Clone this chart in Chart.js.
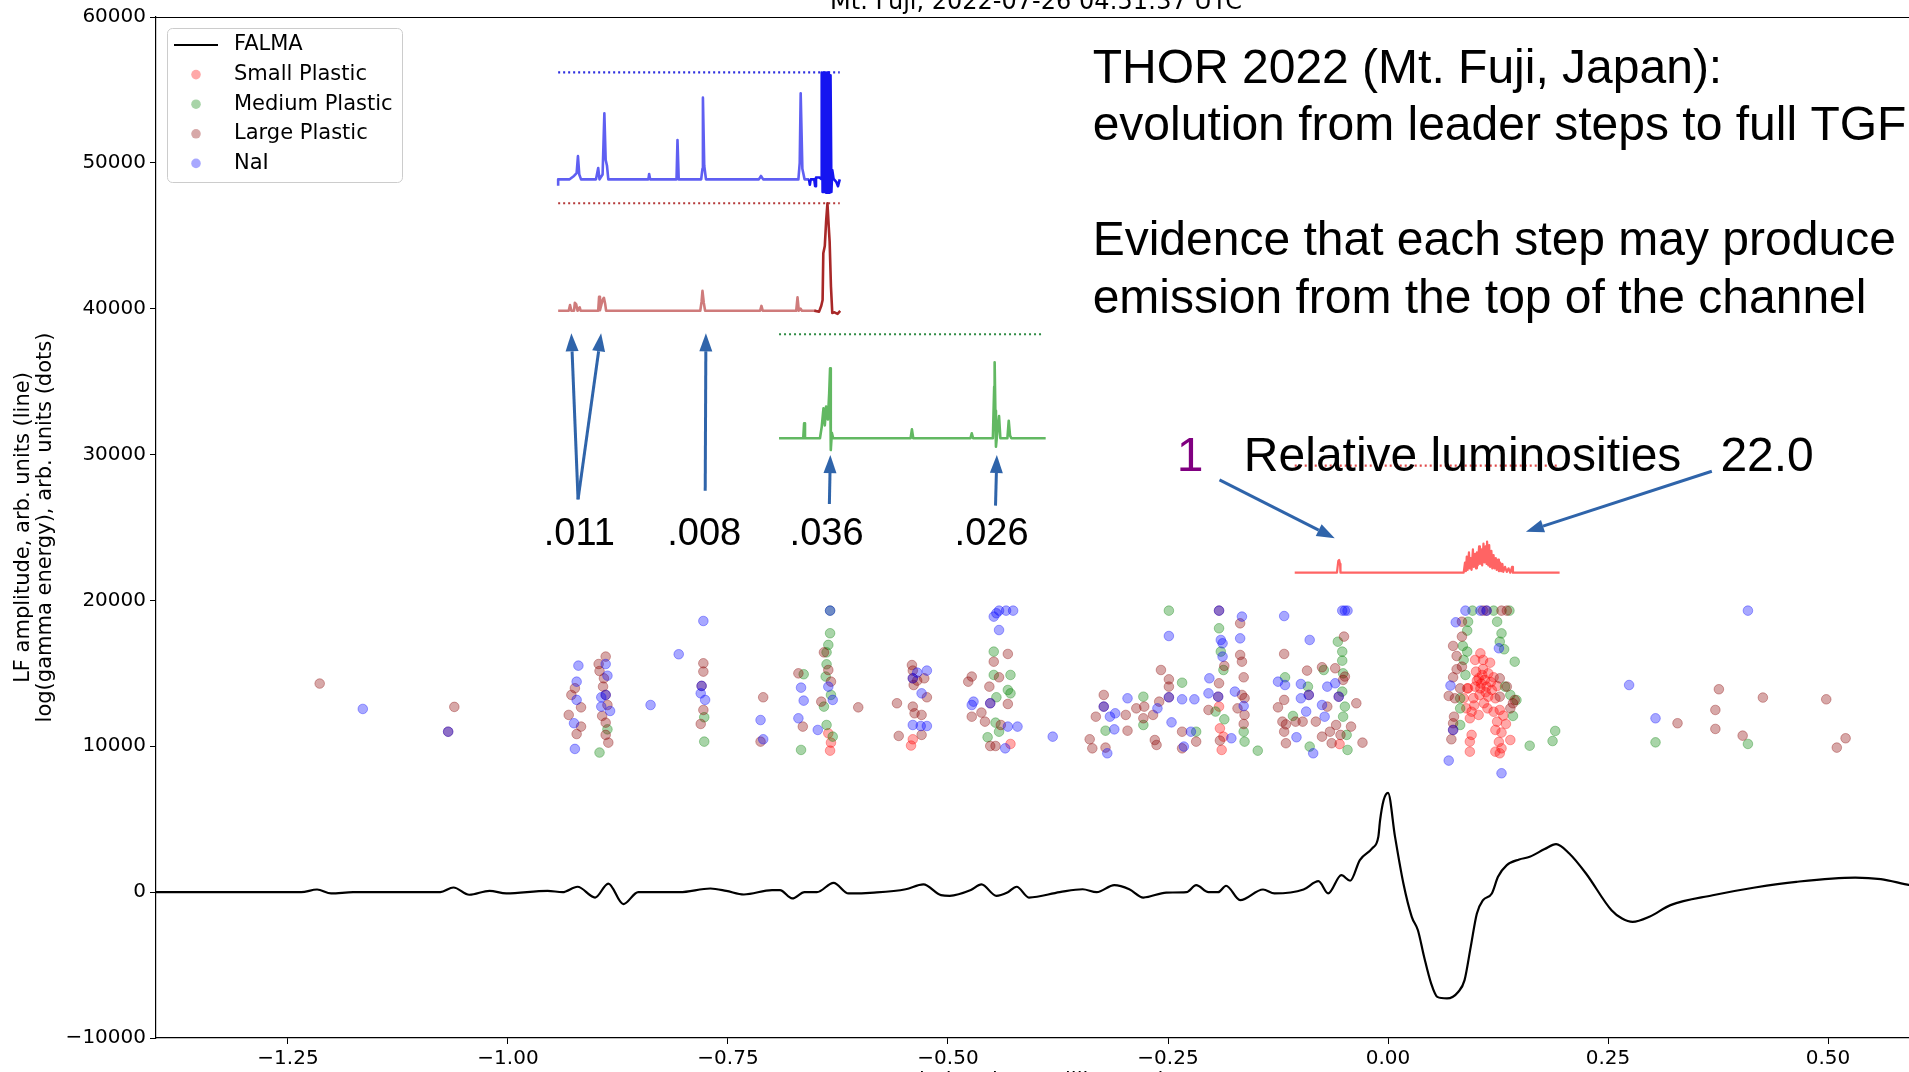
<!DOCTYPE html>
<html>
<head>
<meta charset="utf-8">
<title>THOR 2022 Mt. Fuji</title>
<script src="https://cdn.jsdelivr.net/npm/chart.js@4.4.1/dist/chart.umd.min.js"></script>
<style>
html, body { margin: 0; padding: 0; background: #fff; overflow: hidden; }
#wrap { width: 1909px; height: 1072px; overflow: hidden; }
#chart { display: block; }
</style>
</head>
<body>
<div id="wrap"><canvas id="chart" width="1930" height="1072"></canvas></div>
<script>
// time axis in milliseconds relative to the TGF, y in arbitrary units
const xTicks = [-1.25, -1.00, -0.75, -0.50, -0.25, 0.00, 0.25, 0.50];
const yTicks = [-10000, 0, 10000, 20000, 30000, 40000, 50000, 60000];

// FALMA LF waveform [t, amplitude]
const falma = [
  [-1.400, 0], [-1.300, 0], [-1.235, 0], [-1.217, 180], [-1.201, -90], [-1.176, 0],
  [-1.077, 0], [-1.062, 320], [-1.044, -180], [-1.021, 90], [-1.002, -90], [-0.955, 90],
  [-0.938, 0], [-0.921, 370], [-0.901, -370], [-0.886, 590], [-0.869, -820], [-0.852, 0],
  [-0.828, 0], [-0.805, 0], [-0.770, 250], [-0.752, 90], [-0.732, -160], [-0.700, 140],
  [-0.691, 140], [-0.677, -430], [-0.663, 0], [-0.649, 0], [-0.630, 640], [-0.613, -90],
  [-0.584, -30], [-0.548, 200], [-0.528, 530], [-0.508, -200], [-0.498, -250],
  [-0.474, 140], [-0.462, 530], [-0.445, -250], [-0.432, 0], [-0.422, 370], [-0.408, -370],
  [-0.373, 0], [-0.347, 200], [-0.331, 0], [-0.311, 480], [-0.294, 200], [-0.278, -370],
  [-0.252, -30], [-0.229, 0], [-0.218, 480], [-0.204, 0], [-0.193, 0], [-0.184, 440],
  [-0.168, -550], [-0.142, 180], [-0.129, -90], [-0.096, 180], [-0.079, 750], [-0.068, -90],
  [-0.053, 1160], [-0.043, 780], [-0.032, 2200], [-0.018, 3000], [-0.011, 3790],
  [-0.009, 4930], [-0.005, 6300], [0.000, 6810], [0.008, 3790], [0.0175, 590],
  [0.027, -1690], [0.034, -2610], [0.041, -4430], [0.049, -6260], [0.056, -7180],
  [0.067, -7290], [0.080, -6830], [0.087, -6030], [0.094, -3750], [0.101, -1460],
  [0.108, -550], [0.118, -90], [0.125, 1050], [0.135, 1850], [0.149, 2240], [0.161, 2420],
  [0.178, 2950], [0.191, 3290], [0.206, 2650], [0.225, 1280], [0.254, -1240], [0.266, -1810],
  [0.278, -2040], [0.297, -1690], [0.321, -890], [0.369, -210], [0.417, 320], [0.464, 710],
  [0.531, 1000], [0.560, 890], [0.593, 480], [0.600, 420]
];

// detector hits [t, log energy]
const smallPlastic = [
  [-0.636, 10890], [-0.633, 10250], [-0.634, 9700], [-0.540, 10480], [-0.542, 10050], [-0.429, 10160],
  [-0.192, 12720], [-0.191, 11230], [-0.187, 10660], [-0.189, 9750], [-0.055, 10150],
  [0.105, 16370], [0.099, 15920], [0.108, 15920], [0.116, 15730], [0.100, 15120], [0.107, 14890],
  [0.114, 15000], [0.103, 14660], [0.110, 14550], [0.120, 14730], [0.099, 14090], [0.105, 13970],
  [0.112, 14090], [0.124, 14130], [0.104, 13520], [0.114, 13400], [0.122, 13290], [0.091, 13970],
  [0.089, 12600], [0.095, 12370], [0.103, 12150], [0.093, 11920], [0.120, 12370], [0.127, 12490],
  [0.124, 11690], [0.134, 11530], [0.122, 11120], [0.129, 10940], [0.139, 10430], [0.095, 10780],
  [0.093, 10320], [0.093, 9630], [0.122, 9630], [0.127, 9520], [0.129, 9860], [0.086, 13290],
  [0.090, 13970], [0.118, 13860], [0.109, 12950], [0.106, 14300], [0.101, 14500], [0.111, 13700],
  [0.097, 13300], [0.117, 14400], [0.108, 15300], [0.113, 12600], [0.098, 12800], [0.131, 12100],
  [0.126, 10300]
];
const mediumPlastic = [
  [-0.896, 9570], [-0.887, 11160], [-0.777, 11990], [-0.777, 10320], [-0.664, 14940], [-0.667, 9750],
  [-0.634, 19300], [-0.634, 17750], [-0.636, 16950], [-0.638, 16440], [-0.638, 15620], [-0.639, 14780],
  [-0.633, 13520], [-0.641, 12720], [-0.638, 11460], [-0.631, 10660], [-0.448, 16490], [-0.448, 14890],
  [-0.429, 14890], [-0.432, 13860], [-0.429, 13630], [-0.445, 13360], [-0.446, 11620], [-0.442, 11000],
  [-0.455, 10620], [-0.321, 11070], [-0.278, 13400], [-0.278, 11460], [-0.249, 19300], [-0.234, 14360],
  [-0.218, 11000], [-0.192, 18090], [-0.190, 16490], [-0.187, 15230], [-0.196, 12380], [-0.186, 11850],
  [-0.164, 11000], [-0.163, 10320], [-0.148, 9700], [-0.117, 14730], [-0.108, 12080], [-0.091, 14090],
  [-0.089, 9980], [-0.073, 15230], [-0.057, 17170], [-0.052, 16490], [-0.052, 15870], [-0.051, 15000],
  [-0.052, 13750], [-0.049, 12720], [-0.051, 12030], [-0.047, 10780], [-0.046, 9750],
  [0.096, 19300], [0.120, 19300], [0.138, 19300], [0.091, 18540], [0.090, 17930], [0.124, 18540],
  [0.129, 17740], [0.127, 17170], [0.132, 16650], [0.144, 15800], [0.085, 16880], [0.090, 16490],
  [0.086, 15920], [0.088, 14890], [0.082, 13290], [0.082, 12600], [0.082, 11460], [0.133, 14090],
  [0.139, 13520], [0.146, 13170], [0.142, 12080], [0.161, 10040], [0.187, 10360], [0.190, 11050],
  [0.304, 10270], [0.409, 10160]
];
const largePlastic = [
  [-1.214, 14300], [-1.061, 12700], [-1.068, 11000], [-0.924, 13980], [-0.928, 13520], [-0.917, 12670],
  [-0.931, 12150], [-0.917, 11350], [-0.922, 10840], [-0.897, 15640], [-0.889, 16150], [-0.896, 15160],
  [-0.891, 14660], [-0.892, 14090], [-0.889, 13520], [-0.887, 12830], [-0.893, 12080], [-0.889, 11620],
  [-0.889, 10780], [-0.886, 10250], [-0.778, 15690], [-0.778, 15120], [-0.780, 14140], [-0.778, 12490],
  [-0.781, 11530], [-0.710, 13360], [-0.713, 10320], [-0.670, 15000], [-0.665, 11350], [-0.641, 16440],
  [-0.636, 15230], [-0.633, 14430], [-0.644, 13060], [-0.602, 12670], [-0.558, 12950], [-0.556, 10710],
  [-0.541, 15570], [-0.540, 15190], [-0.540, 14660], [-0.539, 14200], [-0.535, 14500], [-0.527, 14660],
  [-0.524, 13360], [-0.540, 12720], [-0.538, 12260], [-0.530, 12150], [-0.530, 10780], [-0.477, 14430],
  [-0.473, 14780], [-0.473, 12030], [-0.462, 12310], [-0.458, 11690], [-0.452, 12950], [-0.453, 14090],
  [-0.448, 15800], [-0.432, 16330], [-0.442, 14730], [-0.432, 12900], [-0.440, 11460], [-0.452, 10020],
  [-0.446, 10020], [-0.339, 10480], [-0.336, 9860], [-0.323, 13520], [-0.332, 12030], [-0.323, 12720],
  [-0.321, 9910], [-0.298, 12150], [-0.296, 11070], [-0.286, 12600], [-0.277, 12720], [-0.278, 11920],
  [-0.267, 12150], [-0.260, 13060], [-0.265, 10430], [-0.263, 10090], [-0.258, 15230], [-0.249, 14590],
  [-0.249, 14090], [-0.249, 13360], [-0.234, 11000], [-0.234, 9860], [-0.218, 10320], [-0.204, 12490],
  [-0.192, 19300], [-0.186, 15510], [-0.192, 14320], [-0.193, 13400], [-0.191, 10390], [-0.171, 12600],
  [-0.168, 18430], [-0.168, 16260], [-0.166, 15800], [-0.164, 14730], [-0.166, 13520], [-0.163, 13300],
  [-0.163, 12150], [-0.164, 11530], [-0.118, 16330], [-0.118, 13180], [-0.125, 12670], [-0.120, 11690],
  [-0.116, 11500], [-0.118, 11000], [-0.116, 10210], [-0.105, 11690], [-0.097, 11690], [-0.092, 15190],
  [-0.090, 13520], [-0.082, 11690], [-0.075, 15420], [-0.075, 10660], [-0.069, 12720], [-0.066, 11000],
  [-0.064, 10210], [-0.060, 15350], [-0.059, 11460], [-0.050, 17520], [-0.051, 14550], [-0.049, 14780],
  [-0.056, 13400], [-0.054, 10780], [-0.042, 11350], [-0.036, 12950], [-0.029, 10250],
  [0.108, 19300], [0.129, 19300], [0.135, 19300], [0.112, 19300], [0.084, 18540], [0.084, 17520],
  [0.074, 16880], [0.078, 16190], [0.084, 15460], [0.078, 15280], [0.074, 14730], [0.082, 13970],
  [0.069, 13450], [0.076, 13290], [0.075, 12030], [0.072, 10480], [0.074, 11580], [0.074, 11120],
  [0.127, 14660], [0.135, 14090], [0.127, 13400], [0.142, 12950], [0.139, 12600], [0.144, 13170],
  [0.376, 13910], [0.426, 13340], [0.498, 13220], [0.372, 12490], [0.329, 11580], [0.372, 11190],
  [0.403, 10730], [0.520, 10550], [0.510, 9910]
];
const nai = [
  [-1.165, 12560], [-1.068, 11000], [-0.920, 15530], [-0.922, 14430], [-0.922, 13180], [-0.925, 11580],
  [-0.924, 9820], [-0.889, 15640], [-0.887, 14840], [-0.889, 13520], [-0.894, 13360], [-0.894, 12720],
  [-0.884, 12420], [-0.838, 12830], [-0.806, 16310], [-0.778, 18590], [-0.780, 14140], [-0.781, 13630],
  [-0.776, 13180], [-0.713, 11800], [-0.710, 10480], [-0.667, 14020], [-0.664, 13130], [-0.670, 11920],
  [-0.648, 11120], [-0.634, 19300], [-0.636, 14090], [-0.631, 13180], [-0.540, 14660], [-0.535, 15050],
  [-0.524, 15190], [-0.530, 13630], [-0.540, 11460], [-0.531, 11390], [-0.524, 11390], [-0.471, 13060],
  [-0.473, 12830], [-0.452, 12950], [-0.448, 18890], [-0.445, 19120], [-0.442, 19300], [-0.434, 19300],
  [-0.426, 19300], [-0.442, 17970], [-0.432, 11350], [-0.421, 11350], [-0.435, 9860], [-0.381, 10660],
  [-0.323, 12720], [-0.319, 9520], [-0.316, 12030], [-0.311, 11160], [-0.310, 12260], [-0.296, 13290],
  [-0.262, 12600], [-0.249, 17560], [-0.249, 13360], [-0.246, 11640], [-0.234, 13220], [-0.232, 9980],
  [-0.224, 11000], [-0.220, 13220], [-0.204, 13630], [-0.203, 14660], [-0.192, 19300], [-0.190, 17290],
  [-0.188, 17060], [-0.188, 16150], [-0.193, 13400], [-0.178, 10550], [-0.174, 13750], [-0.166, 18890],
  [-0.168, 17400], [-0.164, 12760], [-0.118, 18930], [-0.089, 17290], [-0.125, 14430], [-0.117, 14200],
  [-0.104, 10620], [-0.099, 14270], [-0.099, 13290], [-0.093, 12380], [-0.090, 13520], [-0.085, 9520],
  [-0.075, 12830], [-0.072, 12030], [-0.069, 14090], [-0.060, 14320], [-0.052, 19300], [-0.049, 19300],
  [-0.046, 19300], [-0.056, 13400], [0.088, 19300], [0.105, 19300], [0.112, 19300], [0.077, 18500],
  [0.126, 16720], [0.071, 14160], [0.074, 11120], [0.069, 9020], [0.129, 8150],
  [0.409, 19300], [0.274, 14200], [0.304, 11920]
];

// light-curve insets, drawn in plot units
const naiCurve = [
  [-0.943, 48430], [-0.943, 48870], [-0.930, 48870], [-0.925, 49100], [-0.922, 49300], [-0.9205, 50470],
  [-0.919, 49200], [-0.917, 48870], [-0.900, 48870], [-0.8975, 49650], [-0.896, 48870], [-0.8925, 49200],
  [-0.8905, 53400], [-0.889, 50200], [-0.8875, 49800], [-0.886, 48870], [-0.8405, 48870], [-0.8396, 49240],
  [-0.8385, 48870], [-0.8085, 48870], [-0.8074, 51570], [-0.806, 48870], [-0.7805, 48870], [-0.779, 49600],
  [-0.7785, 54470], [-0.777, 49800], [-0.775, 48870], [-0.715, 48870], [-0.7125, 49100], [-0.710, 48870],
  [-0.670, 48870], [-0.6685, 50000], [-0.6674, 54770], [-0.6655, 49600], [-0.663, 48870], [-0.658, 48870]
];
const naiBurst = [
  [-0.658, 48870], [-0.657, 48500], [-0.656, 48870], [-0.652, 48870], [-0.651, 48400], [-0.650, 49000],
  [-0.646, 49000], [-0.644, 48900], [-0.6435, 56200], [-0.6425, 48000], [-0.6415, 56200], [-0.6405, 48000],
  [-0.6395, 56200], [-0.6385, 47950], [-0.6375, 56200], [-0.6365, 47950], [-0.6355, 56200], [-0.6345, 47950],
  [-0.6335, 56000], [-0.6325, 48000], [-0.6315, 49500], [-0.630, 48900], [-0.627, 48700], [-0.625, 48400],
  [-0.623, 48870]
];
const largeCurve = [
  [-0.943, 39860], [-0.931, 39860], [-0.9295, 40250], [-0.928, 39860], [-0.925, 39860], [-0.924, 40410],
  [-0.9225, 40300], [-0.921, 39860], [-0.9185, 40100], [-0.9175, 39860], [-0.8975, 39860], [-0.8965, 40820],
  [-0.8955, 39900], [-0.8925, 40600], [-0.891, 40750], [-0.8895, 40300], [-0.8885, 39860], [-0.7815, 39860],
  [-0.780, 40500], [-0.779, 41230], [-0.7775, 40400], [-0.776, 39860], [-0.7135, 39860], [-0.712, 40190],
  [-0.7105, 39860], [-0.6725, 39860], [-0.671, 40780], [-0.6695, 39860], [-0.6675, 40000], [-0.666, 39860],
  [-0.650, 39860]
];
const largeBurst = [
  [-0.652, 39860], [-0.6465, 39800], [-0.644, 40200], [-0.6425, 40600], [-0.6417, 43800], [-0.6400, 44300],
  [-0.6385, 46000], [-0.6370, 47230], [-0.6355, 45600], [-0.6345, 44600], [-0.6330, 41500], [-0.6315, 39710],
  [-0.629, 39750], [-0.6255, 39650], [-0.6225, 39850]
];
const mediumCurve = [
  [-0.692, 31120], [-0.6645, 31120], [-0.6635, 32140], [-0.6625, 31120], [-0.6455, 31120], [-0.6435, 31900],
  [-0.6415, 33170], [-0.640, 32000], [-0.6385, 33300], [-0.6365, 32400], [-0.635, 34200], [-0.634, 35910],
  [-0.6332, 30310], [-0.632, 31500], [-0.6305, 31120], [-0.5425, 31120], [-0.541, 31730], [-0.5395, 31120],
  [-0.4745, 31120], [-0.473, 31460], [-0.4715, 31120], [-0.449, 31120], [-0.4475, 34650], [-0.447, 36330],
  [-0.4462, 33000], [-0.4455, 30540], [-0.444, 31500], [-0.442, 32640], [-0.4405, 31120], [-0.4325, 31120],
  [-0.431, 32320], [-0.4295, 31300], [-0.428, 31120], [-0.389, 31120]
];
const smallCurve = [
  [-0.106, 21900], [-0.058, 21900], [-0.0565, 22700], [-0.0555, 22770], [-0.0545, 22500], [-0.054, 21900],
  [0.086, 21900], [0.0875, 22600], [0.0885, 22000], [0.0895, 23000], [0.0905, 22100], [0.092, 23300],
  [0.093, 22200], [0.094, 22900], [0.095, 22100], [0.0965, 23500], [0.0975, 22300], [0.099, 23200],
  [0.100, 22200], [0.101, 23300], [0.102, 22400], [0.1035, 23700], [0.1045, 22500], [0.106, 23500],
  [0.107, 22400], [0.1085, 23900], [0.1095, 22600], [0.111, 23700], [0.112, 22500], [0.1126, 24030],
  [0.114, 22400], [0.115, 23800], [0.116, 22300], [0.1175, 23400], [0.1185, 22200], [0.120, 23100],
  [0.121, 22200], [0.1225, 22900], [0.1235, 22100], [0.125, 22800], [0.126, 22000], [0.1275, 22600],
  [0.1285, 22000], [0.130, 22500], [0.131, 21950], [0.133, 22300], [0.135, 21950], [0.137, 22200],
  [0.139, 21900], [0.141, 22300], [0.142, 21900], [0.195, 21900]
];
// saturation levels of each inset
const naiLimit = [[-0.943, 56200], [-0.623, 56200]];
const largeLimit = [[-0.943, 47230], [-0.623, 47230]];
const mediumLimit = [[-0.692, 38250], [-0.392, 38250]];
const smallLimit = [[-0.106, 29240], [0.195, 29240]];

// step annotations
const stepLabels = ['.011', '.008', '.036', '.026'];
const stepLabelX = [-0.919, -0.777, -0.638, -0.4505];
const arrowFrom = [[-0.9204, 26930], [-0.9204, 26930], [-0.7759, 27520], [-0.6348, 26610], [-0.446, 26500], [-0.1915, 28260], [0.368, 28860]];
const arrowTo = [[-0.928, 38310], [-0.8942, 38310], [-0.7751, 38310], [-0.6337, 29970], [-0.4445, 29970], [-0.0605, 24260], [0.1567, 24710]];
const headline = ['THOR 2022 (Mt. Fuji, Japan):', 'evolution from leader steps to full TGF', '',
  'Evidence that each step may produce', 'emission from the top of the channel'];

const pts = rows => rows.map(r => ({ x: r[0], y: r[1] }));

function hits(label, rows, color, order) {
  return {
    label, data: pts(rows), showLine: false, order, inLegend: true,
    pointRadius: 4.8, pointBackgroundColor: color, pointBorderColor: color, pointBorderWidth: 1
  };
}
function trace(rows, color, width, order, dash) {
  return {
    data: pts(rows), showLine: true, order, borderColor: color, borderWidth: width,
    borderDash: dash || [], pointRadius: 0, tension: 0, borderJoinStyle: 'round'
  };
}

const datasets = [
  {
    label: 'FALMA', data: pts(falma), showLine: true, inLegend: true, order: 20,
    borderColor: '#000', borderWidth: 2.2, pointRadius: 0, cubicInterpolationMode: 'monotone'
  },
  hits('Small Plastic', smallPlastic, 'rgba(255,0,0,0.34)', 9),
  hits('Medium Plastic', mediumPlastic, 'rgba(0,128,0,0.34)', 8),
  hits('Large Plastic', largePlastic, 'rgba(139,0,0,0.34)', 7),
  hits('NaI', nai, 'rgba(0,0,255,0.34)', 6),
  trace(naiLimit, '#2d2de0', 2.2, 1, [2, 3]),
  trace(naiCurve, '#5f5ff2', 2.6, 1),
  trace(naiBurst, '#1515f0', 2.6, 0),
  trace(largeLimit, '#b53a3a', 2.2, 1, [2, 3]),
  trace(largeCurve, '#cf7b7b', 2.6, 1),
  trace(largeBurst, '#a82828', 2.6, 0),
  trace(mediumLimit, '#2e8b45', 2.2, 1, [2, 3]),
  trace(mediumCurve, '#62b862', 2.6, 1),
  trace(smallLimit, '#e04848', 2.2, 1, [2, 3]),
  trace(smallCurve, '#ff6464', 2.2, 1)
];

const TICK_FONT = { family: 'DejaVu Sans', size: 20 };
const minus = s => String(s).replace('-', '\u2212');

// annotations, legend and titles on top of the data
const overlay = {
  id: 'overlay',
  afterDatasetsDraw(chart) {
    const { ctx, chartArea: a, scales: { x, y } } = chart;
    const px = v => x.getPixelForValue(v);
    const py = v => y.getPixelForValue(v);
    ctx.save();

    // top spine
    ctx.strokeStyle = '#000';
    ctx.lineWidth = 1.2;
    ctx.beginPath();
    ctx.moveTo(a.left, a.top + 0.5);
    ctx.lineTo(a.right, a.top + 0.5);
    ctx.stroke();

    // arrows
    ctx.strokeStyle = '#2f64aa';
    ctx.fillStyle = '#2f64aa';
    ctx.lineWidth = 3;
    arrowFrom.forEach((f, i) => {
      const x0 = px(f[0]), y0 = py(f[1]);
      const x1 = px(arrowTo[i][0]), y1 = py(arrowTo[i][1]);
      const ang = Math.atan2(y1 - y0, x1 - x0);
      const len = 18, half = 6.5;
      const bx = x1 - len * Math.cos(ang), by = y1 - len * Math.sin(ang);
      ctx.beginPath();
      ctx.moveTo(x0, y0);
      ctx.lineTo(bx, by);
      ctx.stroke();
      ctx.beginPath();
      ctx.moveTo(x1, y1);
      ctx.lineTo(bx + half * Math.sin(ang), by - half * Math.cos(ang));
      ctx.lineTo(bx - half * Math.sin(ang), by + half * Math.cos(ang));
      ctx.closePath();
      ctx.fill();
    });

    // step luminosity labels
    ctx.fillStyle = '#000';
    ctx.textAlign = 'center';
    ctx.textBaseline = 'alphabetic';
    ctx.font = '38px "Liberation Sans", Arial, sans-serif';
    stepLabels.forEach((t, i) => ctx.fillText(t, px(stepLabelX[i]), py(23830)));

    // headline block
    ctx.textAlign = 'left';
    ctx.font = '48px "Liberation Sans", Arial, sans-serif';
    headline.forEach((t, i) => ctx.fillText(t, px(-0.3356), py(55480) + i * 57.5));

    // relative luminosity scale
    ctx.fillStyle = '#800080';
    ctx.fillText('1', px(-0.240), py(28870));
    ctx.fillStyle = '#000';
    ctx.fillText('Relative luminosities', px(-0.1638), py(28870));
    ctx.fillText('22.0', px(0.3777), py(28870));

    // legend
    const lx = a.left + 11, ly = a.top + 11, lw = 235, lh = 154;
    ctx.fillStyle = 'rgba(255,255,255,0.8)';
    ctx.strokeStyle = '#cccccc';
    ctx.lineWidth = 1;
    ctx.beginPath();
    ctx.roundRect(lx + 0.5, ly + 0.5, lw, lh, 5);
    ctx.fill();
    ctx.stroke();
    ctx.font = '21px "DejaVu Sans"';
    ctx.textBaseline = 'middle';
    chart.data.datasets.filter(d => d.inLegend).forEach((d, i) => {
      const ry = ly + 17 + i * 29.6;
      if (d.showLine) {
        ctx.strokeStyle = d.borderColor;
        ctx.lineWidth = 2;
        ctx.beginPath();
        ctx.moveTo(lx + 7, ry);
        ctx.lineTo(lx + 51, ry);
        ctx.stroke();
      } else {
        ctx.fillStyle = d.pointBackgroundColor;
        ctx.beginPath();
        ctx.arc(lx + 29, ry, 4.8, 0, Math.PI * 2);
        ctx.fill();
      }
      ctx.fillStyle = '#000';
      ctx.fillText(d.label, lx + 67, ry);
    });

    // axes titles
    const cx = (a.left + a.right) / 2;
    ctx.textAlign = 'center';
    ctx.textBaseline = 'alphabetic';
    ctx.font = '24px "DejaVu Sans"';
    ctx.fillText('Mt. Fuji, 2022-07-26 04:51:37 UTC', cx, a.top - 8);
    ctx.font = '21px "DejaVu Sans"';
    ctx.fillText('relative time, milliseconds', cx, a.bottom + 49);
    ctx.translate(0, (a.top + a.bottom) / 2);
    ctx.rotate(-Math.PI / 2);
    ctx.textBaseline = 'middle';
    ctx.fillText('LF amplitude, arb. units (line)', 0, 24);
    ctx.fillText('log(gamma energy), arb. units (dots)', 0, 46);
    ctx.restore();
  }
};

new Chart(document.getElementById('chart'), {
  type: 'scatter',
  data: { datasets },
  plugins: [overlay],
  options: {
    responsive: false,
    devicePixelRatio: 1,
    animation: false,
    events: [],
    layout: { padding: { top: 17, right: 14, left: 0, bottom: 0 } },
    plugins: { legend: { display: false }, tooltip: { enabled: false } },
    scales: {
      x: {
        type: 'linear', min: -1.4, max: 0.6,
        afterFit: s => { s.height = 34; },
        afterBuildTicks: s => { s.ticks = xTicks.map(v => ({ value: v })); },
        border: { color: '#000', width: 1.2 },
        grid: { drawOnChartArea: false, drawTicks: true, tickLength: 6, tickColor: '#000' },
        ticks: { color: '#000', font: TICK_FONT, padding: 3, maxRotation: 0, callback: v => minus(v.toFixed(2)) }
      },
      y: {
        type: 'linear', min: -10000, max: 60000,
        afterFit: s => { s.width = 156; },
        afterBuildTicks: s => { s.ticks = yTicks.map(v => ({ value: v })); },
        border: { color: '#000', width: 1.2 },
        grid: { drawOnChartArea: false, drawTicks: true, tickLength: 6, tickColor: '#000' },
        ticks: { color: '#000', font: TICK_FONT, padding: 4, callback: v => minus(v) }
      }
    }
  }
});
</script>
</body>
</html>
